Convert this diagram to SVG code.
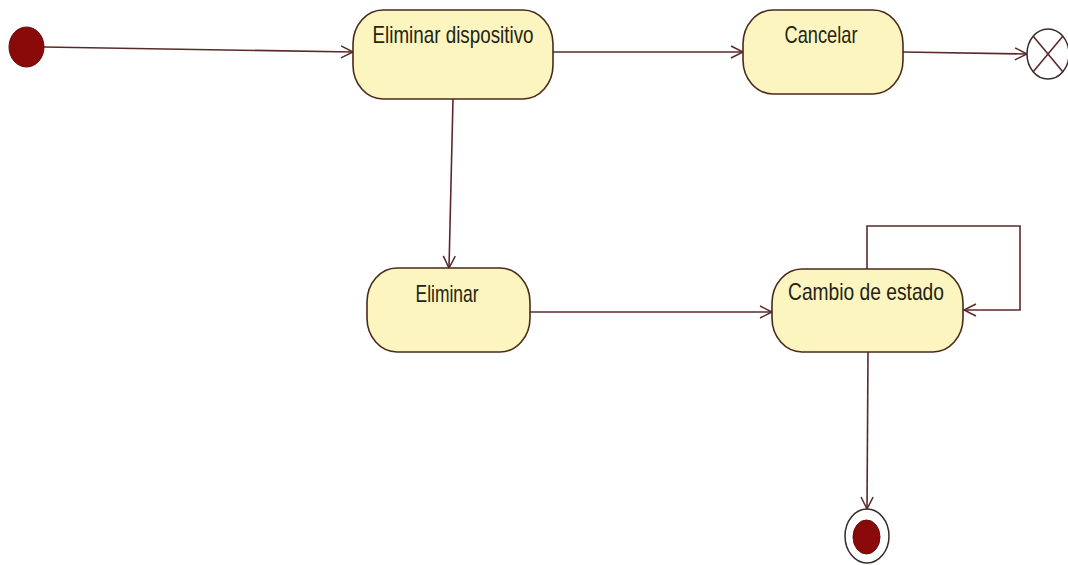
<svg xmlns="http://www.w3.org/2000/svg" width="1068" height="565" viewBox="0 0 1068 565">
  <style>
    .act { fill: #fcf5c0; stroke: #4a2a1a; stroke-width: 1.6; }
    .lbl { font-family: "Liberation Sans", Arial, sans-serif; font-size: 24px; fill: #1f2414; text-anchor: middle; }
    .flow { fill: none; stroke: #5a2a2a; stroke-width: 1.6; marker-end: url(#open); }
    .line { fill: none; stroke: #5a2a2a; stroke-width: 1.6; }
    .dot { fill: #8a0a0a; stroke: #6a0a0a; stroke-width: 1; }
  </style>
  <defs>
    <marker id="open" viewBox="-14 -8 16 16" refX="0" refY="0" markerWidth="16" markerHeight="16" markerUnits="userSpaceOnUse" orient="auto">
      <path d="M -12 -6 L 0 0 L -12 6" fill="none" stroke="#5a2a2a" stroke-width="1.5"/>
    </marker>
  </defs>
  <rect width="1068" height="565" fill="#ffffff"/>

  <!-- connectors -->
  <g id="connectors">
    <line class="flow" x1="44" y1="47" x2="353" y2="52"/>
    <line class="flow" x1="553" y1="52" x2="743" y2="52"/>
    <line class="flow" x1="903" y1="52" x2="1027" y2="54"/>
    <line class="flow" x1="453" y1="99" x2="449" y2="268"/>
    <line class="flow" x1="530" y1="312" x2="772" y2="312"/>
    <polyline class="flow" points="867,269 867,226 1020,226 1020,310 964,310"/>
    <line class="flow" x1="868" y1="352" x2="867" y2="509"/>
  </g>

  <!-- initial state -->
  <g id="initial">
    <ellipse class="dot" cx="26.5" cy="47" rx="17.5" ry="20"/>
  </g>

  <g id="eliminar-dispositivo">
    <rect class="act" x="353" y="10" width="200" height="89" rx="30" ry="34"/>
    <text class="lbl" x="453" y="43" textLength="161" lengthAdjust="spacingAndGlyphs">Eliminar dispositivo</text>
  </g>

  <g id="cancelar">
    <rect class="act" x="743" y="10" width="160" height="84" rx="30" ry="34"/>
    <text class="lbl" x="821" y="43" textLength="73" lengthAdjust="spacingAndGlyphs">Cancelar</text>
  </g>

  <!-- flow final -->
  <g id="flow-final">
    <ellipse cx="1048" cy="54" rx="21" ry="25" fill="#ffffff" stroke="#3a2a2a" stroke-width="1.5"/>
    <line class="line" x1="1033" y1="36" x2="1063" y2="72"/>
    <line class="line" x1="1063" y1="36" x2="1033" y2="72"/>
  </g>

  <g id="eliminar">
    <rect class="act" x="367" y="268" width="163" height="84" rx="30" ry="34"/>
    <text class="lbl" x="447" y="302" textLength="63" lengthAdjust="spacingAndGlyphs">Eliminar</text>
  </g>

  <g id="cambio-de-estado">
    <rect class="act" x="772" y="269" width="191" height="83" rx="30" ry="34"/>
    <text class="lbl" x="866" y="300" textLength="156" lengthAdjust="spacingAndGlyphs">Cambio de estado</text>
  </g>

  <!-- final state -->
  <g id="final">
    <ellipse cx="867" cy="536" rx="22" ry="27" fill="#ffffff" stroke="#3a2a2a" stroke-width="1.5"/>
    <ellipse class="dot" cx="866.5" cy="537" rx="13.5" ry="17"/>
  </g>
</svg>
